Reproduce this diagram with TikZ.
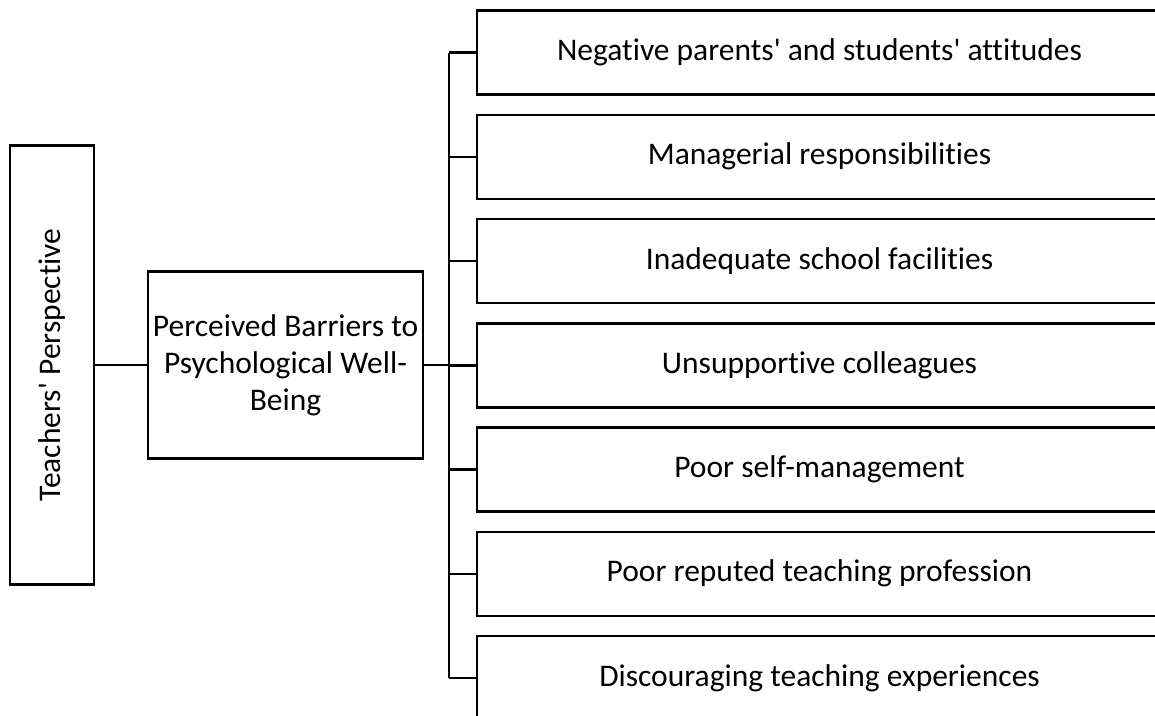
\documentclass[tikz,border=0pt]{standalone}
\usepackage{fontspec}
\setmainfont{Carlito}[Ligatures={TeXOff,CommonOff}]
\begin{document}
\begin{tikzpicture}[x=1pt,y=-1pt,
  box/.style={draw,line width=2.5pt,rectangle,inner sep=0pt,align=center,
    font=\fontsize{31.5}{37}\selectfont},
  link/.style={line width=2.5pt}]

\path[use as bounding box,clip] (0,0) rectangle (1155,715);
\fill[white] (0,0) rectangle (1155,715);

\node[box,minimum width=84pt,minimum height=439pt] (persp) at (52,365)
  {\rotatebox{90}{Teachers' Perspective}};
\node[box,minimum width=275pt,minimum height=187pt] (barr) at (285.5,365)
  {Perceived Barriers to\\Psychological Well-\\Being};

\foreach \i/\t in {1/Negative parents' and students' attitudes,
                   2/Managerial responsibilities,
                   3/Inadequate school facilities,
                   4/Unsupportive colleagues,
                   5/Poor self-management,
                   6/Poor reputed teaching profession,
                   7/Discouraging teaching experiences} {
        \node[box,minimum width=685pt,minimum height=84pt] (r\i) at (819.5,52.5+104.25*\i-104.25) {\t};
 }

\coordinate (trunk) at (449,0);

\draw[link] (persp.east) -- (barr.west);
\draw[link] (barr.east) -- (trunk |- barr.east);
\draw[link] (trunk |- r1.west) -- (trunk |- r7.west);
\foreach \i in {1,...,7} {
        \draw[link] (trunk |- r\i.west) -- (r\i.west);
 }
\end{tikzpicture}
\end{document}
